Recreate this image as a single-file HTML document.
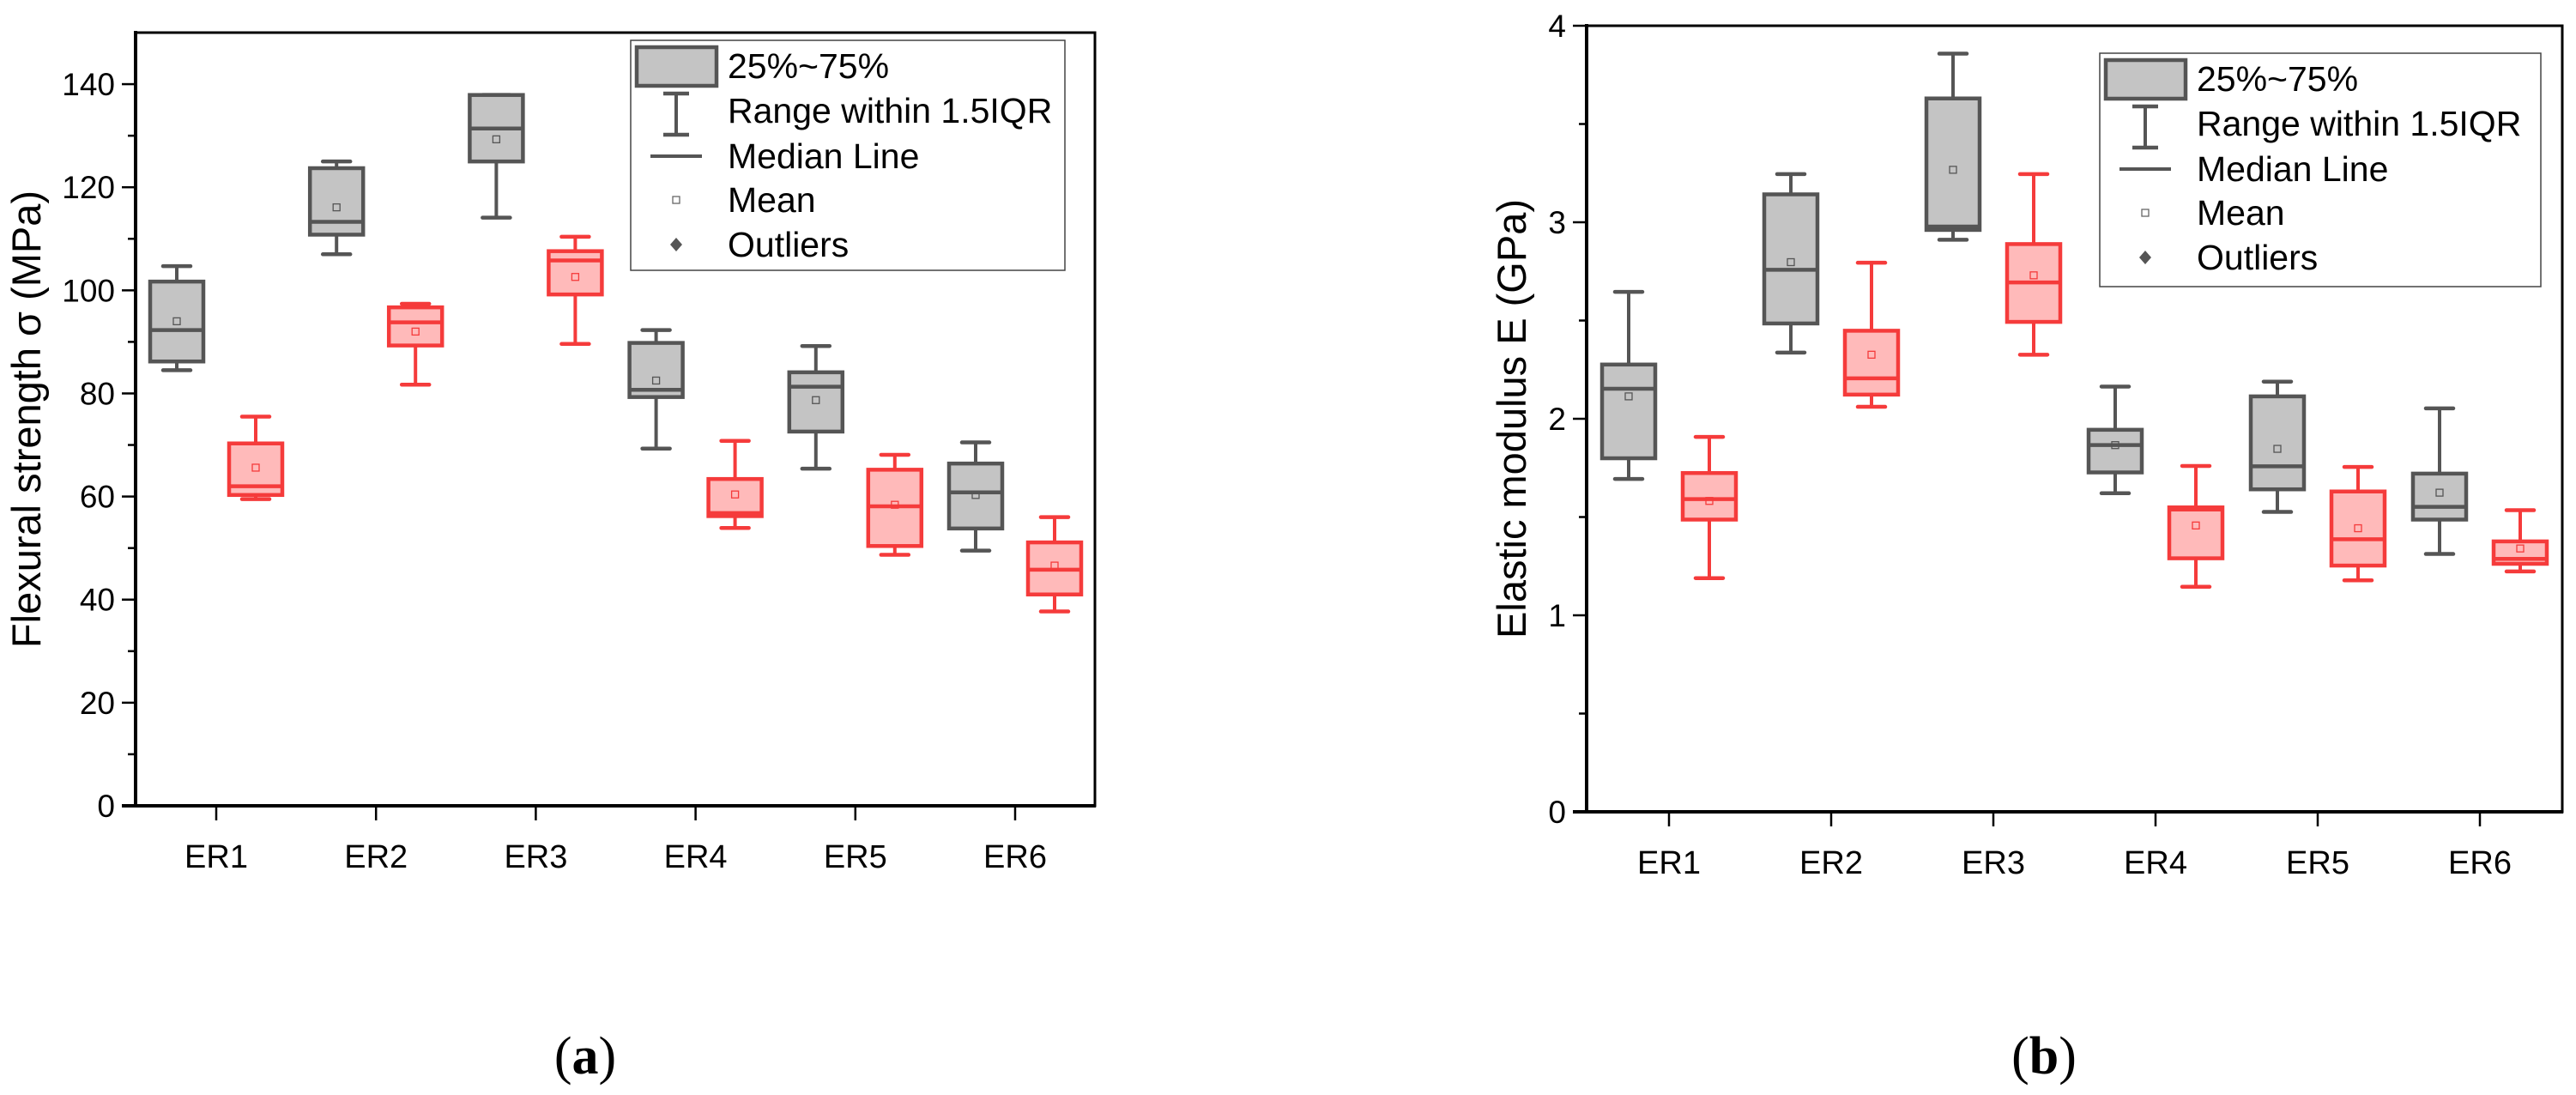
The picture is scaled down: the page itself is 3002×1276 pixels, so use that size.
<!DOCTYPE html>
<html><head><meta charset="utf-8"><style>
html,body{margin:0;padding:0;background:#fff;}
svg{display:block;font-family:"Liberation Sans",Arial,sans-serif;}
</style></head><body>
<svg id="fig" width="3002" height="1276" viewBox="0 0 3002 1276" xmlns="http://www.w3.org/2000/svg"></svg>
<script>
const categories = ["ER1","ER2","ER3","ER4","ER5","ER6"];
// Chart (a) flexural strength, MPa
const aGrayWLow = [84.5,107.0,114.1,69.3,65.4,49.5];
const aGrayQ1   = [86.2,110.8,125.0,79.3,72.6,53.8];
const aGrayMed  = [92.3,113.3,131.4,80.7,81.3,60.8];
const aGrayQ3   = [101.7,123.7,137.9,89.8,84.1,66.4];
const aGrayWHigh= [104.7,125.0,137.9,92.3,89.2,70.5];
const aGrayMean = [94.0,116.1,129.3,82.5,78.7,60.3];
const aRedWLow  = [59.5,81.7,89.6,53.9,48.7,37.7];
const aRedQ1    = [60.3,89.3,99.2,56.2,50.4,41.0];
const aRedMed   = [62.0,93.8,105.8,56.8,58.1,45.8];
const aRedQ3    = [70.3,96.7,107.6,63.4,65.2,51.1];
const aRedWHigh = [75.5,97.4,110.4,70.8,68.1,56.0];
const aRedMean  = [65.6,92.0,102.6,60.4,58.4,46.6];
const aTicks = [0,20,40,60,80,100,120,140];
// Chart (b) elastic modulus, GPa
const bGrayWLow = [1.694,2.337,2.911,1.621,1.526,1.312];
const bGrayQ1   = [1.799,2.485,2.961,1.727,1.641,1.487];
const bGrayMed  = [2.153,2.758,2.978,1.866,1.758,1.552];
const bGrayQ3   = [2.276,3.142,3.630,1.944,2.114,1.721];
const bGrayWHigh= [2.646,3.245,3.858,2.164,2.189,2.053];
const bGrayMean = [2.114,2.797,3.267,1.866,1.847,1.624];
const bRedWLow  = [1.189,2.061,2.326,1.145,1.178,1.223];
const bRedQ1    = [1.487,2.123,2.493,1.290,1.253,1.262];
const bRedMed   = [1.591,2.206,2.694,1.538,1.387,1.287];
const bRedQ3    = [1.724,2.448,2.889,1.549,1.630,1.376];
const bRedWHigh = [1.908,2.794,3.245,1.760,1.755,1.535];
const bRedMean  = [1.582,2.326,2.730,1.457,1.443,1.340];
const bTicks = [0,1,2,3,4];

const NS="http://www.w3.org/2000/svg";
const svg=document.getElementById('fig');
function mk(tag,attrs,parent){const e=document.createElementNS(NS,tag);for(const k in attrs)e.setAttribute(k,attrs[k]);(parent||svg).appendChild(e);return e;}

function chart(cfg){
  const g=mk('g',{});
  
  
  const {L,R,T,B,ymax}=cfg;
  const y=v=>B-(v/ymax)*(B-T);
  const x=i=>cfg.x0+i*cfg.dx;
  const fr=mk('rect',{x:L,y:T,width:R-L,height:B-T,fill:'none',stroke:'#000','stroke-width':3},g);
  
  
  mk('line',{x1:L,y1:T-2,x2:L,y2:B+2,stroke:'#000','stroke-width':4},g);
  mk('line',{x1:L-16,y1:B,x2:R+1,y2:B,stroke:'#000','stroke-width':4},g);
  cfg.ticks.forEach((t,k)=>{
    mk('line',{x1:L-16,y1:y(t),x2:L,y2:y(t),stroke:'#000','stroke-width':2.5},g);
    const tx=mk('text',{x:L-24,y:y(t)+13,'text-anchor':'end','font-size':37,fill:'#000'},g);
    tx.textContent=t;
    
    
    if(k<cfg.ticks.length-1){const m=(t+cfg.ticks[k+1])/2;
      mk('line',{x1:L-9,y1:y(m),x2:L,y2:y(m),stroke:'#000','stroke-width':2.5},g);}
  });
  categories.forEach((c,i)=>{
    mk('line',{x1:x(i),y1:B,x2:x(i),y2:B+17,stroke:'#000','stroke-width':2.5},g);
    const tx=mk('text',{x:x(i),y:B+72,'text-anchor':'middle','font-size':38,fill:'#000'},g);
    tx.textContent=c;
    
    
  });
  const yt=mk('text',{x:0,y:0,transform:`translate(${cfg.titleX},${(T+B)/2}) rotate(-90)`,'text-anchor':'middle','font-size':47,fill:'#000'},g);
  yt.textContent=cfg.title;
  
  
  function box(i,off,wl,q1,md,q3,wh,mn,stroke,fill,nm){
    const cx=x(i)+off, w=62, bg=mk('g',{},g);
    
    
    mk('line',{x1:cx,y1:y(wh),x2:cx,y2:y(wl),stroke:stroke,'stroke-width':4},bg);
    mk('line',{x1:cx-16,y1:y(wh),x2:cx+16,y2:y(wh),stroke:stroke,'stroke-width':4.5,'stroke-linecap':'round'},bg);
    mk('line',{x1:cx-16,y1:y(wl),x2:cx+16,y2:y(wl),stroke:stroke,'stroke-width':4.5,'stroke-linecap':'round'},bg);
    mk('rect',{x:cx-w/2,y:y(q3),width:w,height:y(q1)-y(q3),fill:fill,stroke:stroke,'stroke-width':4.5},bg);
    mk('line',{x1:cx-w/2,y1:y(md),x2:cx+w/2,y2:y(md),stroke:stroke,'stroke-width':4.5},bg);
    mk('rect',{x:cx-4,y:y(mn)-4,width:8,height:8,fill:'none',stroke:stroke,'stroke-width':1.3},bg);
  }
  categories.forEach((c,i)=>{
    box(i,-cfg.off,cfg.g[0][i],cfg.g[1][i],cfg.g[2][i],cfg.g[3][i],cfg.g[4][i],cfg.g[5][i],'#555','#c4c4c4','gray-box');
    box(i,cfg.off,cfg.r[0][i],cfg.r[1][i],cfg.r[2][i],cfg.r[3][i],cfg.r[4][i],cfg.r[5][i],'#f53b3b','#ffbaba','red-box');
  });
  const lg=mk('g',{},g);
  
  
  const [lx,ly,lw,lh]=cfg.leg;
  mk('rect',{x:lx,y:ly,width:lw,height:lh,fill:'#fff',stroke:'#444','stroke-width':1.5},lg);
  const sx=lx+53, rows=[30,82,135,186,238];
  mk('rect',{x:lx+7,y:ly+8,width:93,height:45,fill:'#c4c4c4',stroke:'#555','stroke-width':4.5},lg);
  mk('line',{x1:sx,y1:ly+rows[1]-20,x2:sx,y2:ly+rows[1]+28,stroke:'#555','stroke-width':4},lg);
  mk('line',{x1:sx-15,y1:ly+rows[1]-20,x2:sx+15,y2:ly+rows[1]-20,stroke:'#555','stroke-width':4.5},lg);
  mk('line',{x1:sx-15,y1:ly+rows[1]+28,x2:sx+15,y2:ly+rows[1]+28,stroke:'#555','stroke-width':4.5},lg);
  mk('line',{x1:sx-30,y1:ly+rows[2],x2:sx+30,y2:ly+rows[2],stroke:'#555','stroke-width':4},lg);
  mk('rect',{x:sx-4,y:ly+rows[3]-4,width:8,height:8,fill:'none',stroke:'#666','stroke-width':1.3},lg);
  mk('path',{d:`M${sx} ${ly+rows[4]-8}L${sx+7} ${ly+rows[4]}L${sx} ${ly+rows[4]+8}L${sx-7} ${ly+rows[4]}Z`,fill:'#555'},lg);
  ["25%~75%","Range within 1.5IQR","Median Line","Mean","Outliers"].forEach((s,k)=>{
    const t=mk('text',{x:lx+113,y:ly+rows[k]+14,'font-size':41,fill:'#000'},lg);
    t.textContent=s;
    
    
  });
  const cap=mk('text',{x:cfg.capX,y:1251,'text-anchor':'middle','font-size':62,'font-family':'"Liberation Serif",serif',fill:'#000'},g);
  cap.innerHTML=`(<tspan font-weight="bold">${cfg.cap}</tspan>)`;
  
  
}
chart({name:'flexural-strength-chart',L:158,R:1276,T:38,B:939,ymax:150,x0:252,dx:186.2,off:46,ticks:aTicks,
  title:'Flexural strength σ (MPa)',titleX:47,leg:[735,47,506,268],capX:682,cap:'a',
  g:[aGrayWLow,aGrayQ1,aGrayMed,aGrayQ3,aGrayWHigh,aGrayMean],r:[aRedWLow,aRedQ1,aRedMed,aRedQ3,aRedWHigh,aRedMean]});
chart({name:'elastic-modulus-chart',L:1849,R:2986,T:30,B:946,ymax:4,x0:1945,dx:189,off:47,ticks:bTicks,
  title:'Elastic modulus E (GPa)',titleX:1778,leg:[2447,62,514,272],capX:2382,cap:'b',
  g:[bGrayWLow,bGrayQ1,bGrayMed,bGrayQ3,bGrayWHigh,bGrayMean],r:[bRedWLow,bRedQ1,bRedMed,bRedQ3,bRedWHigh,bRedMean]});
</script>
</body></html>
